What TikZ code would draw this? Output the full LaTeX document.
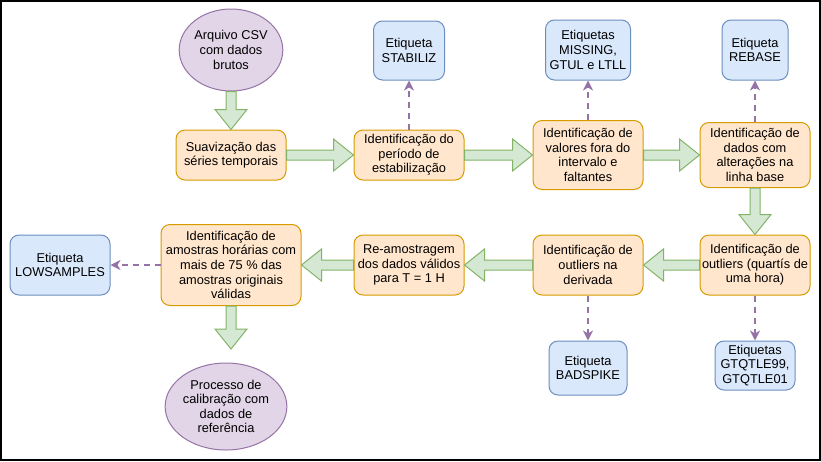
\documentclass[tikz,border=0pt]{standalone}
\usepackage{fontspec}
\setmainfont{Liberation Sans}
\usetikzlibrary{calc,arrows.meta,shapes.geometric}
\definecolor{orfill}{HTML}{FFE6CC}
\definecolor{ordraw}{HTML}{D79B00}
\definecolor{blfill}{HTML}{DAE8FC}
\definecolor{bldraw}{HTML}{6C8EBF}
\definecolor{pufill}{HTML}{E1D5E7}
\definecolor{pudraw}{HTML}{9673A6}
\definecolor{grfill}{HTML}{D5E8D4}
\definecolor{grdraw}{HTML}{82B366}
\tikzset{
  base/.style={font=\fontsize{12.8}{14.6}\selectfont, align=center, inner sep=0pt, line width=1pt},
  proc/.style={base, draw=ordraw, fill=orfill, rounded corners=9pt, minimum width=110pt},
  tag/.style={base, draw=bldraw, fill=blfill, rounded corners=9pt},
  term/.style={base, ellipse, draw=pudraw, fill=pufill},
  bigarrow/.style={draw=grdraw, fill=grfill, line width=1pt, line join=miter},
  dasharr/.style={draw=pudraw, line width=2pt, dash pattern=on 6pt off 5pt, -{Stealth[length=10pt,width=10pt,inset=3pt]}, shorten >=0pt}
}
\newcommand\flexarr[2]{%
  \path (#1) coordinate (fa-s) (#2) coordinate (fa-e) ($(fa-e)!20pt!(fa-s)$) coordinate (fa-h);
  \draw[bigarrow] ($(fa-s)!5pt!90:(fa-e)$) -- ($(fa-h)!5pt!-90:(fa-s)$) -- ($(fa-h)!16pt!-90:(fa-s)$) -- (fa-e) -- ($(fa-h)!16pt!90:(fa-s)$) -- ($(fa-h)!5pt!90:(fa-s)$) -- ($(fa-s)!5pt!-90:(fa-e)$) -- cycle;}
\begin{document}
\begin{tikzpicture}[x=1pt,y=-1pt]
\useasboundingbox (0,0) rectangle (821,461);
\draw[line width=2pt] (1,1) rectangle (819.5,459.5);
% terminals
\node[term, minimum width=91pt, minimum height=82pt] (csv) at (231,50) {Arquivo CSV\\com dados\\brutos};
\node[term, minimum width=100pt, minimum height=87pt] (proc) at (226,406.5) {Processo de\\calibração com\\dados de\\referência};
% process boxes
\node[proc, minimum height=50pt] (suav) at (231,155) {Suavização das\\séries temporais};
\node[proc, minimum height=50pt] (periodo) at (409,155) {Identificação do\\período de\\estabilização};
\node[proc, minimum height=69pt] (valores) at (588,155) {Identificação de\\valores fora do\\intervalo e\\faltantes};
\node[proc, minimum height=65pt] (dados) at (755,155) {Identificação de\\dados com\\alterações na\\linha base};
\node[proc, minimum height=60pt] (quartis) at (755,265) {Identificação de\\outliers (quartís de\\uma hora)};
\node[proc, minimum height=60pt] (deriv) at (588,265) {Identificação de\\outliers na\\derivada};
\node[proc, minimum height=60pt] (reamost) at (409,265) {Re-amostragem\\dos dados válidos\\para T = 1 H};
\node[proc, minimum width=140pt, minimum height=81pt] (amostras) at (231,265) {Identificação de\\amostras horárias com\\mais de 75 \% das\\amostras originais\\válidas};
% tags
\node[tag, minimum width=71pt, minimum height=59pt] (stab) at (409,50.5) {Etiqueta\\STABILIZ};
\node[tag, minimum width=85pt, minimum height=60pt] (missing) at (588,50) {Etiquetas\\MISSING,\\GTUL e LTLL};
\node[tag, minimum width=66pt, minimum height=60pt] (rebase) at (755,50) {Etiqueta\\REBASE};
\node[tag, minimum width=100pt, minimum height=60pt] (low) at (60,265) {Etiqueta\\LOWSAMPLES};
\node[tag, minimum width=78pt, minimum height=54pt] (bad) at (588,368) {Etiqueta\\BADSPIKE};
\node[tag, minimum width=80pt, minimum height=49pt] (gtq) at (755,365.5) {Etiquetas\\GTQTLE99,\\GTQTLE01};
\coordinate (procin) at (231,349);
% big arrows
\flexarr{csv.south}{suav.north}
\flexarr{suav.east}{periodo.west}
\flexarr{periodo.east}{valores.west}
\flexarr{valores.east}{dados.west}
\flexarr{dados.south}{quartis.north}
\flexarr{quartis.west}{deriv.east}
\flexarr{deriv.west}{reamost.east}
\flexarr{reamost.west}{amostras.east}
\flexarr{amostras.south}{procin}
% dashed arrows
\draw[dasharr] (periodo.north) -- (stab.south);
\draw[dasharr] (valores.north) -- (missing.south);
\draw[dasharr] (dados.north) -- (rebase.south);
\draw[dasharr] (deriv.south) -- (bad.north);
\draw[dasharr] (quartis.south) -- (gtq.north);
\draw[dasharr] (amostras.west) -- (low.east);
\end{tikzpicture}
\end{document}
